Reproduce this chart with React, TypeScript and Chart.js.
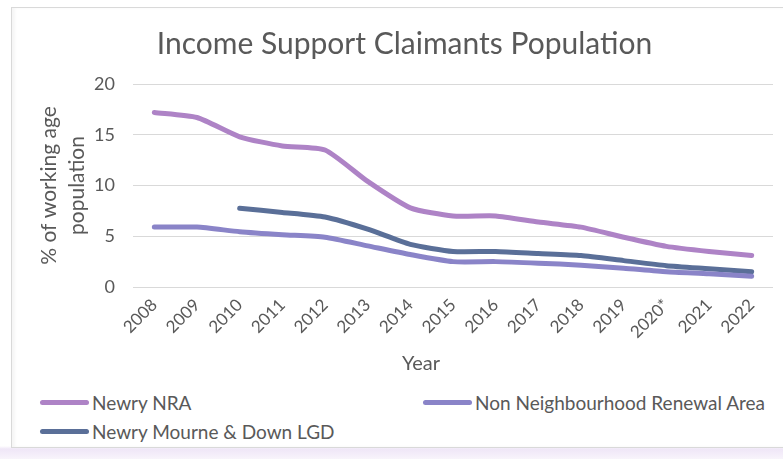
import React, { useEffect, useRef } from "react";
import { Chart, registerables } from "chart.js";

Chart.register(...registerables);

const years = ["2008","2009","2010","2011","2012","2013","2014","2015","2016","2017","2018","2019","2020*","2021","2022"];
const newryNRA = [17.2, 16.7, 14.8, 13.9, 13.5, 10.4, 7.8, 7.0, 7.0, 6.4, 5.9, 4.9, 4.0, 3.5, 3.1];
const nonNRA = [5.9, 5.9, 5.45, 5.15, 4.9, 4.05, 3.2, 2.5, 2.5, 2.35, 2.15, 1.85, 1.5, 1.3, 1.05];
const lgd = [null, null, 7.75, 7.35, 6.9, 5.7, 4.2, 3.5, 3.5, 3.3, 3.1, 2.6, 2.1, 1.8, 1.5];
const yTicks = [0, 5, 10, 15, 20];

const seriesNames = ["Newry NRA", "Non Neighbourhood Renewal Area", "Newry Mourne & Down LGD"];
const seriesColors = ["#AE83C6", "#8A84C8", "#5A6F98"];

const FONT = "Lato, 'Open Sans', sans-serif";
const GREY = "#595959";

const yearTitlePlugin = {
  id: "yearTitle",
  afterDraw(chart: any) {
    const ctx = chart.ctx;
    ctx.save();
    ctx.font = `20px ${FONT}`;
    ctx.fillStyle = GREY;
    ctx.textAlign = "center";
    ctx.textBaseline = "middle";
    ctx.fillText("Year", 421, 364);
    ctx.restore();
  },
};

export default function App() {
  const ref = useRef<HTMLCanvasElement>(null);
  useEffect(() => {
    if (!ref.current) return;
    const chart = new Chart(ref.current, {
      type: "line",
      data: {
        labels: years,
        datasets: [newryNRA, nonNRA, lgd].map((d, i) => ({
          label: seriesNames[i],
          data: d as any,
          borderColor: seriesColors[i],
          backgroundColor: seriesColors[i],
          borderWidth: 5,
          pointRadius: 0,
          tension: 0.2,
          borderCapStyle: "round" as const,
          borderJoinStyle: "round" as const,
          spanGaps: false,
        })),
      },
      options: {
        animation: false,
        responsive: false,
        maintainAspectRatio: false,
        layout: { padding: { left: 36, right: 10, top: 0, bottom: 0 } },
        plugins: {
          legend: { display: false },
          tooltip: { enabled: false },
          title: {
            display: true,
            text: "Income Support Claimants Population",
            color: GREY,
            font: { family: FONT, size: 30, weight: "normal" },
            padding: { top: 26, bottom: 22 },
          },
        },
        scales: {
          x: {
            offset: true,
            grid: { display: false },
            border: { display: false },
            ticks: {
              color: GREY,
              font: { family: FONT, size: 17 },
              minRotation: 45,
              maxRotation: 45,
              autoSkip: false,
              padding: 0,
            },
            afterFit: (s: any) => { s.height = 93; },
          },
          y: {
            min: 0,
            max: 20,
            afterBuildTicks: (s: any) => { s.ticks = yTicks.map((v) => ({ value: v })); },
            grid: { color: "#D9D9D9", lineWidth: 1, drawTicks: false },
            border: { display: false },
            ticks: {
              color: GREY,
              font: { family: FONT, size: 18 },
              padding: 18,
            },
            title: {
              display: true,
              text: ["% of working age", "population"],
              color: GREY,
              font: { family: FONT, size: 21, lineHeight: 1.3 },
              padding: 0,
            },
            afterFit: (s: any) => { s.width = 97; },
          },
        },
      },
      plugins: [yearTitlePlugin],
    });
    return () => chart.destroy();
  }, []);

  const legendItems = [
    { i: 0, left: 40, top: 402 },
    { i: 1, left: 423, top: 402 },
    { i: 2, left: 40, top: 431 },
  ];

  return (
    <div style={{ position: "fixed", left: 0, top: 0, width: 783, height: 459, overflow: "hidden", background: "linear-gradient(#ffffff 0px, #ffffff 446px, #efe6f7 449px, #f8f4fb 459px)" }}>
      <div style={{ position: "absolute", left: 11, top: 7, width: 800, height: 439, border: "1px solid #D9D9D9", background: "#fff", boxShadow: "inset 3px 0 3px rgba(0,0,0,0.04)" }} />
      <canvas ref={ref} width={783} height={380} style={{ position: "absolute", left: 0, top: 0, width: 783, height: 380 }} />
      {legendItems.map(({ i, left, top }) => (
        <div key={i} style={{ position: "absolute", left, top: top - 12, height: 24, display: "flex", alignItems: "center", fontFamily: FONT, fontSize: 19, color: GREY, whiteSpace: "nowrap" }}>
          <span style={{ display: "inline-block", width: 49, height: 5, borderRadius: 3, background: seriesColors[i], marginRight: 3 }} />
          {seriesNames[i]}
        </div>
      ))}
    </div>
  );
}
